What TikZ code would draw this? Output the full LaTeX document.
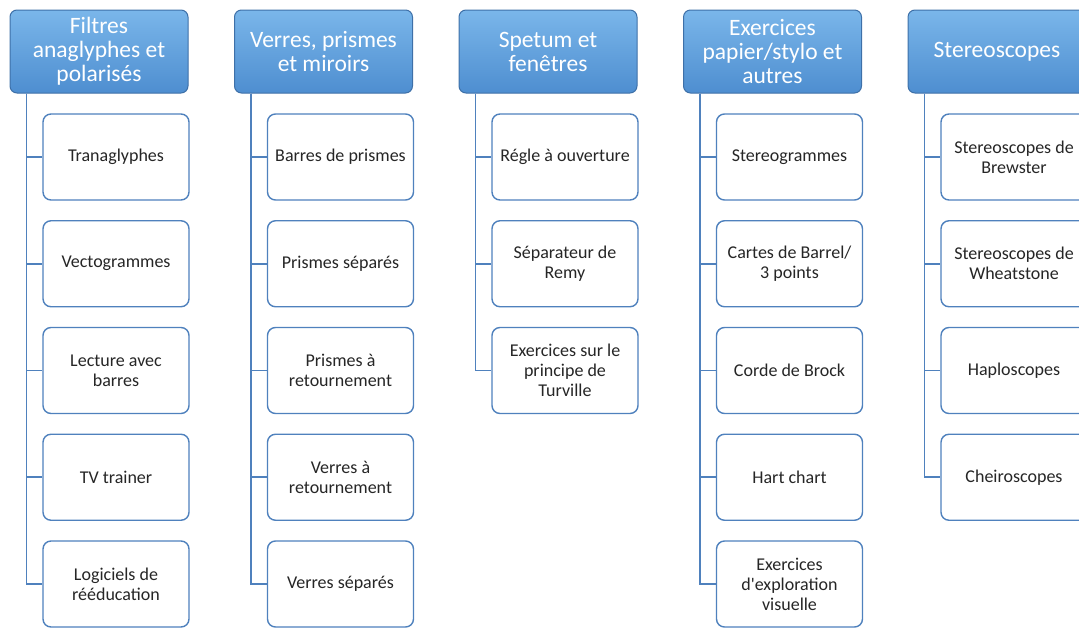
\documentclass[tikz,border=0pt]{standalone}
\usepackage{fontspec}
\setmainfont{Carlito}
\usetikzlibrary{positioning}
\definecolor{hdtop}{RGB}{122,182,234}
\definecolor{hdbot}{RGB}{78,142,208}
\definecolor{hdline}{RGB}{62,112,168}
\definecolor{itline}{RGB}{79,129,189}
\tikzset{
    head/.style={rectangle,rounded corners=7pt,draw=hdline,line width=1pt,
        top color=hdtop,bottom color=hdbot,text=white,align=center,
        minimum width=178pt,minimum height=83pt,inner sep=2pt,
        font=\fontsize{23.5}{24}\selectfont},
    item/.style={rectangle,rounded corners=8pt,draw=itline,line width=1.4pt,
        fill=white,text=black!85,align=center,
        minimum width=146pt,minimum height=86pt,inner sep=2pt,
        font=\fontsize{18}{20}\selectfont},
    link/.style={draw=itline,line width=1.8pt},
}
\begin{document}
\begin{tikzpicture}[x=1pt,y=-1pt]
\clip (0,0) rectangle (1079,627);
\def\a{224.5}
\def\b{106.75}
% headers
\node[head] (f)  at (99,51.5) {Filtres\\anaglyphes et\\polarisés};
\node[head] (v)  at (99+\a,51.5) {Verres, prismes\\et miroirs};
\node[head] (s)  at (99+2*\a,51.5) {Spetum et\\fenêtres};
\node[head] (e)  at (99+3*\a,51.5) {Exercices\\papier/stylo et\\autres};
\node[head] (st) at (99+4*\a,51.5) {Stereoscopes};
% filtres
\node[item] (f1) at (116,157) {Tranaglyphes};
\node[item] (f2) at (116,157+\b) {Vectogrammes};
\node[item] (f3) at (116,157+2*\b) {Lecture avec\\barres};
\node[item] (f4) at (116,157+3*\b) {TV trainer};
\node[item] (f5) at (116,157+4*\b) {Logiciels de\\rééducation};
% verres
\node[item] (v1) at (116+\a,157) {Barres de prismes};
\node[item] (v2) at (116+\a,157+\b) {Prismes séparés};
\node[item] (v3) at (116+\a,157+2*\b) {Prismes à\\retournement};
\node[item] (v4) at (116+\a,157+3*\b) {Verres à\\retournement};
\node[item] (v5) at (116+\a,157+4*\b) {Verres séparés};
% spetum
\node[item] (s1) at (116+2*\a,157) {Régle à ouverture};
\node[item] (s2) at (116+2*\a,157+\b) {Séparateur de\\Remy};
\node[item] (s3) at (116+2*\a,157+2*\b) {Exercices sur le\\principe de\\Turville};
% exercices
\node[item] (e1) at (116+3*\a,157) {Stereogrammes};
\node[item] (e2) at (116+3*\a,157+\b) {Cartes de Barrel/\\3 points};
\node[item] (e3) at (116+3*\a,157+2*\b) {Corde de Brock};
\node[item] (e4) at (116+3*\a,157+3*\b) {Hart chart};
\node[item] (e5) at (116+3*\a,157+4*\b) {Exercices\\d\textquotesingle exploration\\visuelle};
% stereoscopes
\node[item] (st1) at (116+4*\a,157) {Stereoscopes de\\Brewster};
\node[item] (st2) at (116+4*\a,157+\b) {Stereoscopes de\\Wheatstone};
\node[item] (st3) at (116+4*\a,157+2*\b) {Haploscopes};
\node[item] (st4) at (116+4*\a,157+3*\b) {Cheiroscopes};
% links
\foreach \p/\n in {f/1,f/2,f/3,f/4,f/5,v/1,v/2,v/3,v/4,v/5,s/1,s/2,s/3,
                   e/1,e/2,e/3,e/4,e/5,st/1,st/2,st/3,st/4}
    \draw[link] ([xshift=17pt]\p.south west) |- (\p\n.west);
\end{tikzpicture}
\end{document}
